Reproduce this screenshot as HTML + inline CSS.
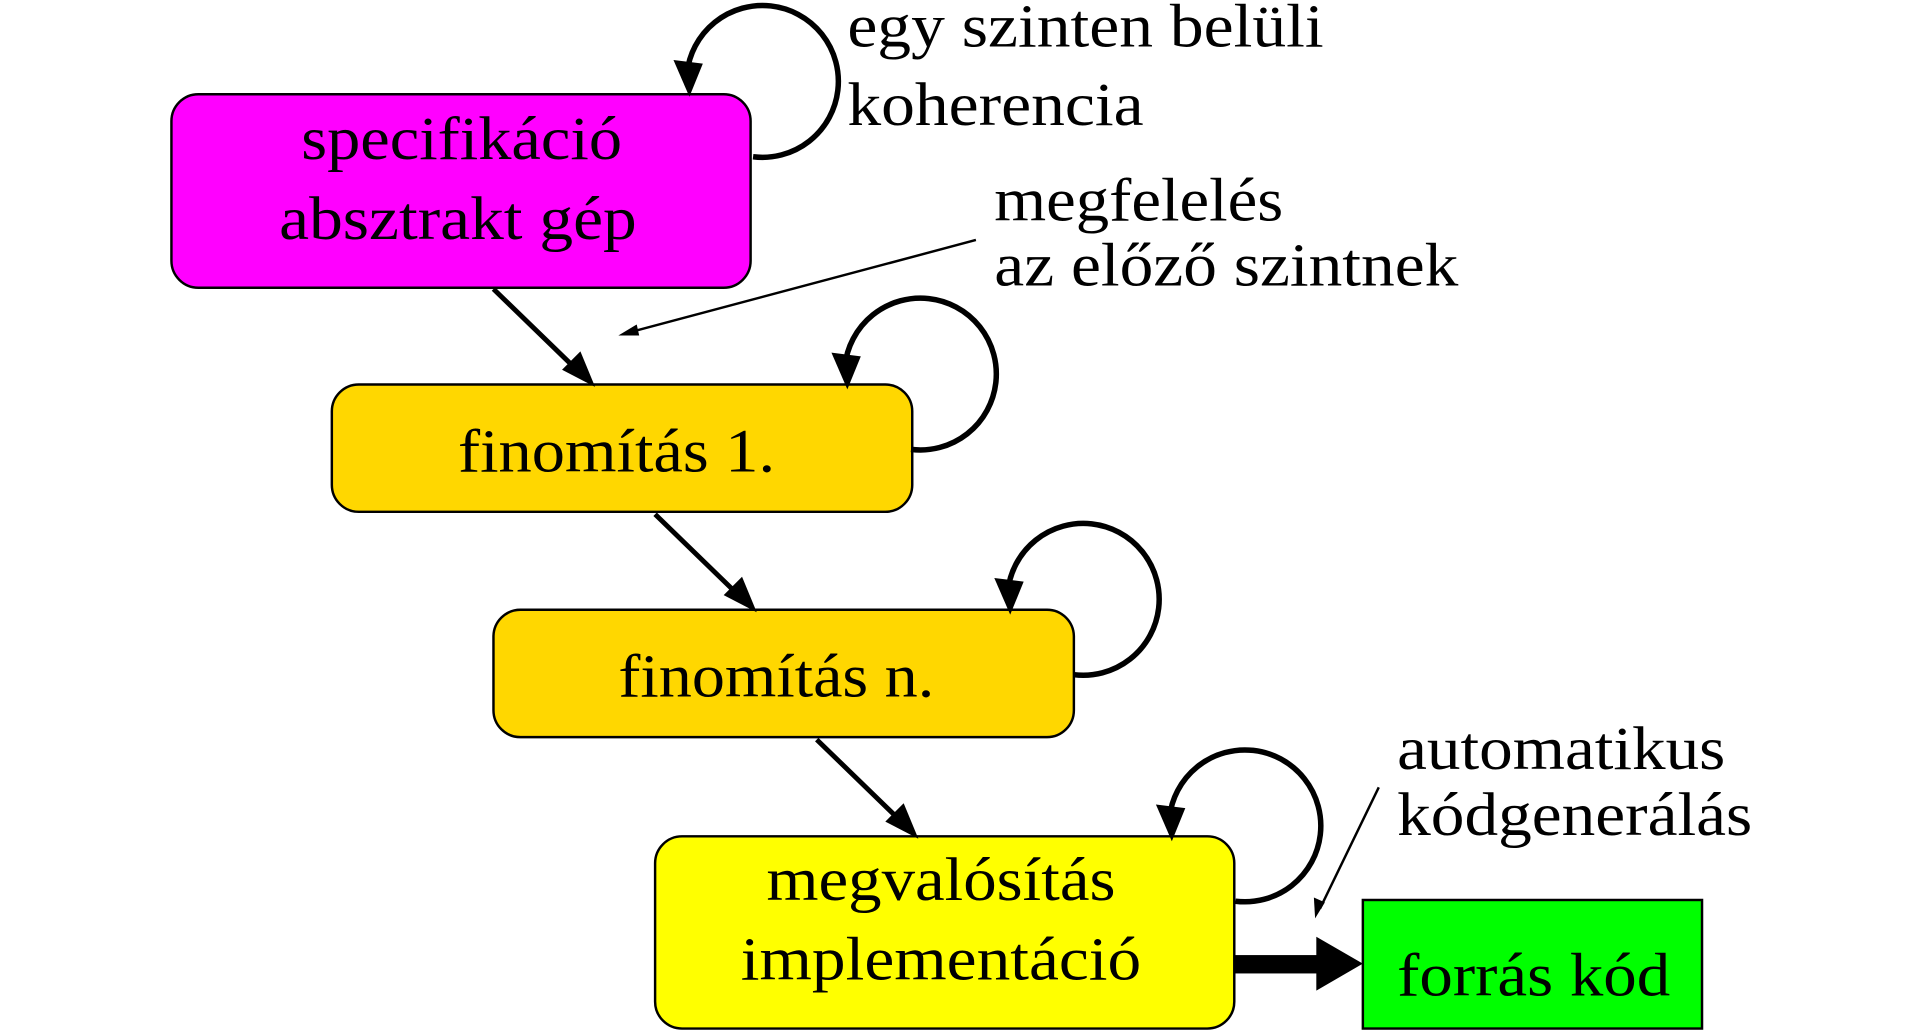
<!DOCTYPE html>
<html><head><meta charset="utf-8"><style>
html,body{margin:0;padding:0;background:#fff;width:1920px;height:1031px;overflow:hidden}
svg{display:block}
text{font-family:"Liberation Serif",serif;font-size:50px;fill:#000}
</style></head><body>
<svg width="1920" height="1031" viewBox="0 0 1568 842" preserveAspectRatio="none">
<defs>
<g id="loop">
<path d="M615,128 A62,62 0 1 0 561,60" fill="none" stroke="#000" stroke-width="4.5"/>
<polygon points="563,79 550,49 574,52" fill="#000"/>
</g>
</defs>
<rect x="140" y="77" width="473" height="158" rx="22" fill="#ff00ff" stroke="#000" stroke-width="2"/>
<rect x="271" y="314" width="474" height="104" rx="22" fill="#ffd700" stroke="#000" stroke-width="2"/>
<rect x="403" y="498" width="474" height="104" rx="22" fill="#ffd700" stroke="#000" stroke-width="2"/>
<rect x="535" y="683" width="473" height="157" rx="22" fill="#ffff00" stroke="#000" stroke-width="2"/>
<rect x="1113" y="735" width="277" height="105" fill="#00ff00" stroke="#000" stroke-width="2"/>
<use href="#loop"/>
<use href="#loop" transform="translate(129,239)"/>
<use href="#loop" transform="translate(262,423)"/>
<use href="#loop" transform="translate(394,608)"/>
<g stroke="#000" stroke-width="4">
<line x1="403" y1="236" x2="470" y2="301"/>
<line x1="535" y1="420" x2="602" y2="485"/>
<line x1="667" y1="604" x2="734" y2="669"/>
</g>
<polygon points="486,316 459,302 474,287" fill="#000"/>
<polygon points="618,500 591,486 606,471" fill="#000"/>
<polygon points="750,685 723,671 738,656" fill="#000"/>
<line x1="797" y1="196" x2="512" y2="272" stroke="#000" stroke-width="2"/>
<polygon points="505,274 520,265 522,274" fill="#000"/>
<line x1="1126" y1="643" x2="1078" y2="742" stroke="#000" stroke-width="2"/>
<polygon points="1074,750 1073,733 1082,737" fill="#000"/>
<rect x="1008" y="780" width="70" height="15" fill="#000"/>
<polygon points="1075,765 1113,787 1075,809" fill="#000"/>
<g lengthAdjust="spacingAndGlyphs">
<text x="246" y="130" textLength="262" lengthAdjust="spacingAndGlyphs">specifikáció</text>
<text x="228" y="195" textLength="292" lengthAdjust="spacingAndGlyphs">absztrakt gép</text>
<text x="374" y="385" textLength="259" lengthAdjust="spacingAndGlyphs">finomítás 1.</text>
<text x="505" y="569" textLength="258" lengthAdjust="spacingAndGlyphs">finomítás n.</text>
<text x="626" y="735" textLength="285" lengthAdjust="spacingAndGlyphs">megvalósítás</text>
<text x="605" y="800" textLength="327" lengthAdjust="spacingAndGlyphs">implementáció</text>
<text x="1141" y="813" textLength="223" lengthAdjust="spacingAndGlyphs">forrás kód</text>
<text x="692" y="38" textLength="389" lengthAdjust="spacingAndGlyphs">egy szinten belüli</text>
<text x="692" y="102" textLength="242" lengthAdjust="spacingAndGlyphs">koherencia</text>
<text x="812" y="180" textLength="236" lengthAdjust="spacingAndGlyphs">megfelelés</text>
<text x="812" y="233" textLength="379" lengthAdjust="spacingAndGlyphs">az előző szintnek</text>
<text x="1141" y="628" textLength="268" lengthAdjust="spacingAndGlyphs">automatikus</text>
<text x="1141" y="682" textLength="290" lengthAdjust="spacingAndGlyphs">kódgenerálás</text>
</g>
</svg>
</body></html>
